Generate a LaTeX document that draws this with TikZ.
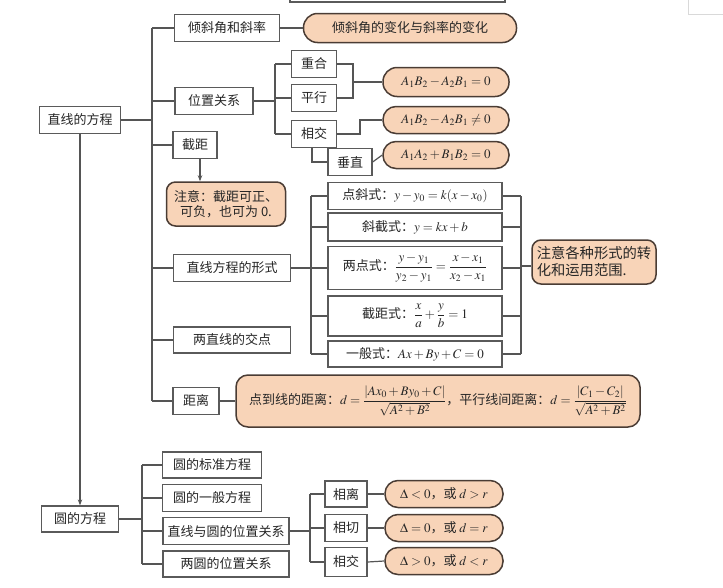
\documentclass[tikz,border=0pt]{standalone}
\usepackage{amsmath}
\usepackage{mathptmx}
\usepackage{fontspec}
\newfontfamily\cjk{Noto Sans CJK SC}
\usetikzlibrary{arrows.meta}
\definecolor{peach}{HTML}{F8D4B8}
\definecolor{edgec}{HTML}{4A3C34}
\definecolor{boxline}{HTML}{5A5A5A}
\definecolor{wirec}{HTML}{555555}
\tikzset{
  rbox/.style={draw=boxline, line width=1.3pt, fill=white, inner sep=0pt,
    font=\cjk\fontsize{13}{15}\selectfont, text=black!85},
  pill/.style={draw=edgec, line width=1.5pt, fill=peach, rounded corners=12pt,
    inner sep=0pt, font=\cjk\fontsize{13}{15}\selectfont, text=black!85},
  notebox/.style={pill, rounded corners=9pt, align=center},
  wire/.style={draw=wirec, line width=1.2pt},
  arr/.style={wire, -{Stealth[length=6pt,width=4.5pt]}},
}
\begin{document}
\begin{tikzpicture}[x=1pt,y=-1pt]
\useasboundingbox (0,0) rectangle (723,587);
% partial elements at top
\draw[boxline, line width=1.2pt] (290,-5) rectangle (505,2);
\draw[black!15, line width=0.8pt] (688,0) -- (688,14) -- (723,14);

% ---- line section ----
\node[rbox, minimum width=81pt, minimum height=27pt] (zx) at (80,120) {直线的方程};
\node[rbox, minimum width=105pt, minimum height=27pt] (qx) at (227,28) {倾斜角和斜率};
\node[pill, minimum width=213pt, minimum height=29pt, rounded corners=14pt] (qxb) at (410,28) {倾斜角的变化与斜率的变化};
\node[rbox, minimum width=78pt, minimum height=27pt] (wz) at (214,101) {位置关系};
\node[rbox, minimum width=45pt, minimum height=27pt] (ch) at (314,64) {重合};
\node[rbox, minimum width=45pt, minimum height=27pt] (px) at (314,98) {平行};
\node[rbox, minimum width=45pt, minimum height=27pt] (xj) at (314,134) {相交};
\node[rbox, minimum width=44pt, minimum height=27pt] (cz) at (350,162) {垂直};
\node[pill, minimum width=126pt, minimum height=29pt, rounded corners=14pt] (f1) at (446,82) {$A_1B_2-A_2B_1=0$};
\node[pill, minimum width=126pt, minimum height=27pt, rounded corners=13pt] (f2) at (446,120) {$A_1B_2-A_2B_1\neq0$};
\node[pill, minimum width=126pt, minimum height=27pt, rounded corners=13pt] (f3) at (446,155) {$A_1A_2+B_1B_2=0$};
\node[rbox, minimum width=44pt, minimum height=27pt] (jj) at (195,145) {截距};
\node[notebox, minimum width=119pt, minimum height=44pt] (jjn) at (226,204) {注意：截距可正、\\可负，也可为 0.};
\node[rbox, minimum width=117pt, minimum height=27pt] (xs) at (232,268) {直线方程的形式};
\node[rbox, minimum width=174pt, minimum height=27pt] (d1) at (415,196) {点斜式：$y-y_0=k(x-x_0)$};
\node[rbox, minimum width=174pt, minimum height=28pt] (d2) at (415,227) {斜截式：$y=kx+b$};
\node[rbox, minimum width=174pt, minimum height=43pt] (d3) at (415,268) {两点式：$\dfrac{y-y_1}{y_2-y_1}=\dfrac{x-x_1}{x_2-x_1}$};
\node[rbox, minimum width=174pt, minimum height=40pt] (d4) at (415,316) {截距式：$\dfrac{x}{a}+\dfrac{y}{b}=1$};
\node[rbox, minimum width=174pt, minimum height=26pt] (d5) at (415,354) {一般式：$Ax+By+C=0$};
\node[notebox, align=left, minimum width=124pt, minimum height=44pt, font=\cjk\fontsize{14.3}{17}\selectfont] (xn) at (594,262) {注意各种形式的转\\化和运用范围.};
\node[rbox, minimum width=117pt, minimum height=26pt] (jd) at (232,340) {两直线的交点};
\node[rbox, minimum width=46pt, minimum height=27pt] (jl) at (196,401) {距离};
\node[notebox, minimum width=404pt, minimum height=52pt, rounded corners=12pt] (jlf) at (438,401)
  {点到线的距离：$d=\dfrac{|Ax_0+By_0+C|}{\sqrt{A^2+B^2}}$，平行线间距离：$d=\dfrac{|C_1-C_2|}{\sqrt{A^2+B^2}}$};

% ---- circle section ----
\node[rbox, minimum width=77pt, minimum height=26pt] (yuan) at (80,519) {圆的方程};
\node[rbox, minimum width=99pt, minimum height=26pt] (y1) at (212,465) {圆的标准方程};
\node[rbox, minimum width=99pt, minimum height=27pt] (y2) at (212,498) {圆的一般方程};
\node[rbox, minimum width=126pt, minimum height=27pt] (y3) at (226,531) {直线与圆的位置关系};
\node[rbox, minimum width=126pt, minimum height=26pt] (y4) at (226,564) {两圆的位置关系};
\node[rbox, minimum width=42pt, minimum height=26pt] (r1) at (346,494) {相离};
\node[rbox, minimum width=42pt, minimum height=27pt] (r2) at (346,528) {相切};
\node[rbox, minimum width=42pt, minimum height=29pt] (r3) at (346,562) {相交};
\node[pill, minimum width=118pt, minimum height=27pt, rounded corners=13pt] (s1) at (444,494) {$\Delta<0$，或 $d>r$};
\node[pill, minimum width=118pt, minimum height=27pt, rounded corners=13pt] (s2) at (444,528) {$\Delta=0$，或 $d=r$};
\node[pill, minimum width=118pt, minimum height=27pt, rounded corners=13pt] (s3) at (444,561) {$\Delta>0$，或 $d<r$};

% ---- connectors ----
\coordinate (b1) at (152,120);
\draw[wire] (zx.east) -- (b1);
\draw[wire] (b1 |- qx) -- (b1 |- jl);
\foreach \n in {qx,wz,jj,xs,jd,jl} \draw[wire] (b1 |- \n) -- (\n.west);
\draw[wire] (qx.east) -- (qxb.west);

\coordinate (b2) at (275,101);
\draw[wire] (wz.east) -- (b2);
\draw[wire] (b2 |- ch) -- (b2 |- xj);
\foreach \n in {ch,px,xj} \draw[wire] (b2 |- \n) -- (\n.west);
\coordinate (b3) at (353,82);
\draw[wire] (ch.east) -- (ch.east -| b3) -- (px.east -| b3) -- (px.east);
\draw[wire] (b3) -- (f1.west);
\coordinate (b4) at (360,120);
\draw[wire] (xj.east) -| (b4) -- (f2.west);
\draw[wire] ([xshift=-2pt]xj.south) |- (cz.west);
\draw[wire] (cz.east) -- (f3.west);
\draw[arr] ([xshift=5pt]jj.south) -- ([xshift=5pt]jj.south |- jjn.north);

\coordinate (b5) at (311,268);
\draw[wire] (xs.east) -- (b5);
\draw[wire] (b5 |- d1) -- (b5 |- d5);
\foreach \n in {d1,d2,d3,d4,d5} \draw[wire] (b5 |- \n) -- (\n.west);
\coordinate (b6) at (521,266);
\draw[wire] (b6 |- d1) -- (b6 |- d5);
\foreach \n in {d1,d2,d3,d4,d5} \draw[wire] (\n.east) -- (b6 |- \n);
\draw[wire] (b6) -- (b6 -| xn.west);
\draw[wire] (jl.east) -- (jlf.west);

\draw[arr] (zx.south) -- (yuan.north);
\coordinate (b7) at (142,519);
\draw[wire] (yuan.east) -- (b7);
\draw[wire] (b7 |- y1) -- (b7 |- y4);
\foreach \n in {y1,y2,y3,y4} \draw[wire] (b7 |- \n) -- (\n.west);
\coordinate (b8) at (310,531);
\draw[wire] (y3.east) -- (b8);
\draw[wire] (b8 |- r1) -- (b8 |- r3);
\foreach \n in {r1,r2,r3} \draw[wire] (b8 |- \n) -- (\n.west);
\draw[wire] (r1.east) -- (s1.west);
\draw[wire] (r2.east) -- (s2.west);
\draw[wire] (r3.east) -- (s3.west);
\end{tikzpicture}
\end{document}
